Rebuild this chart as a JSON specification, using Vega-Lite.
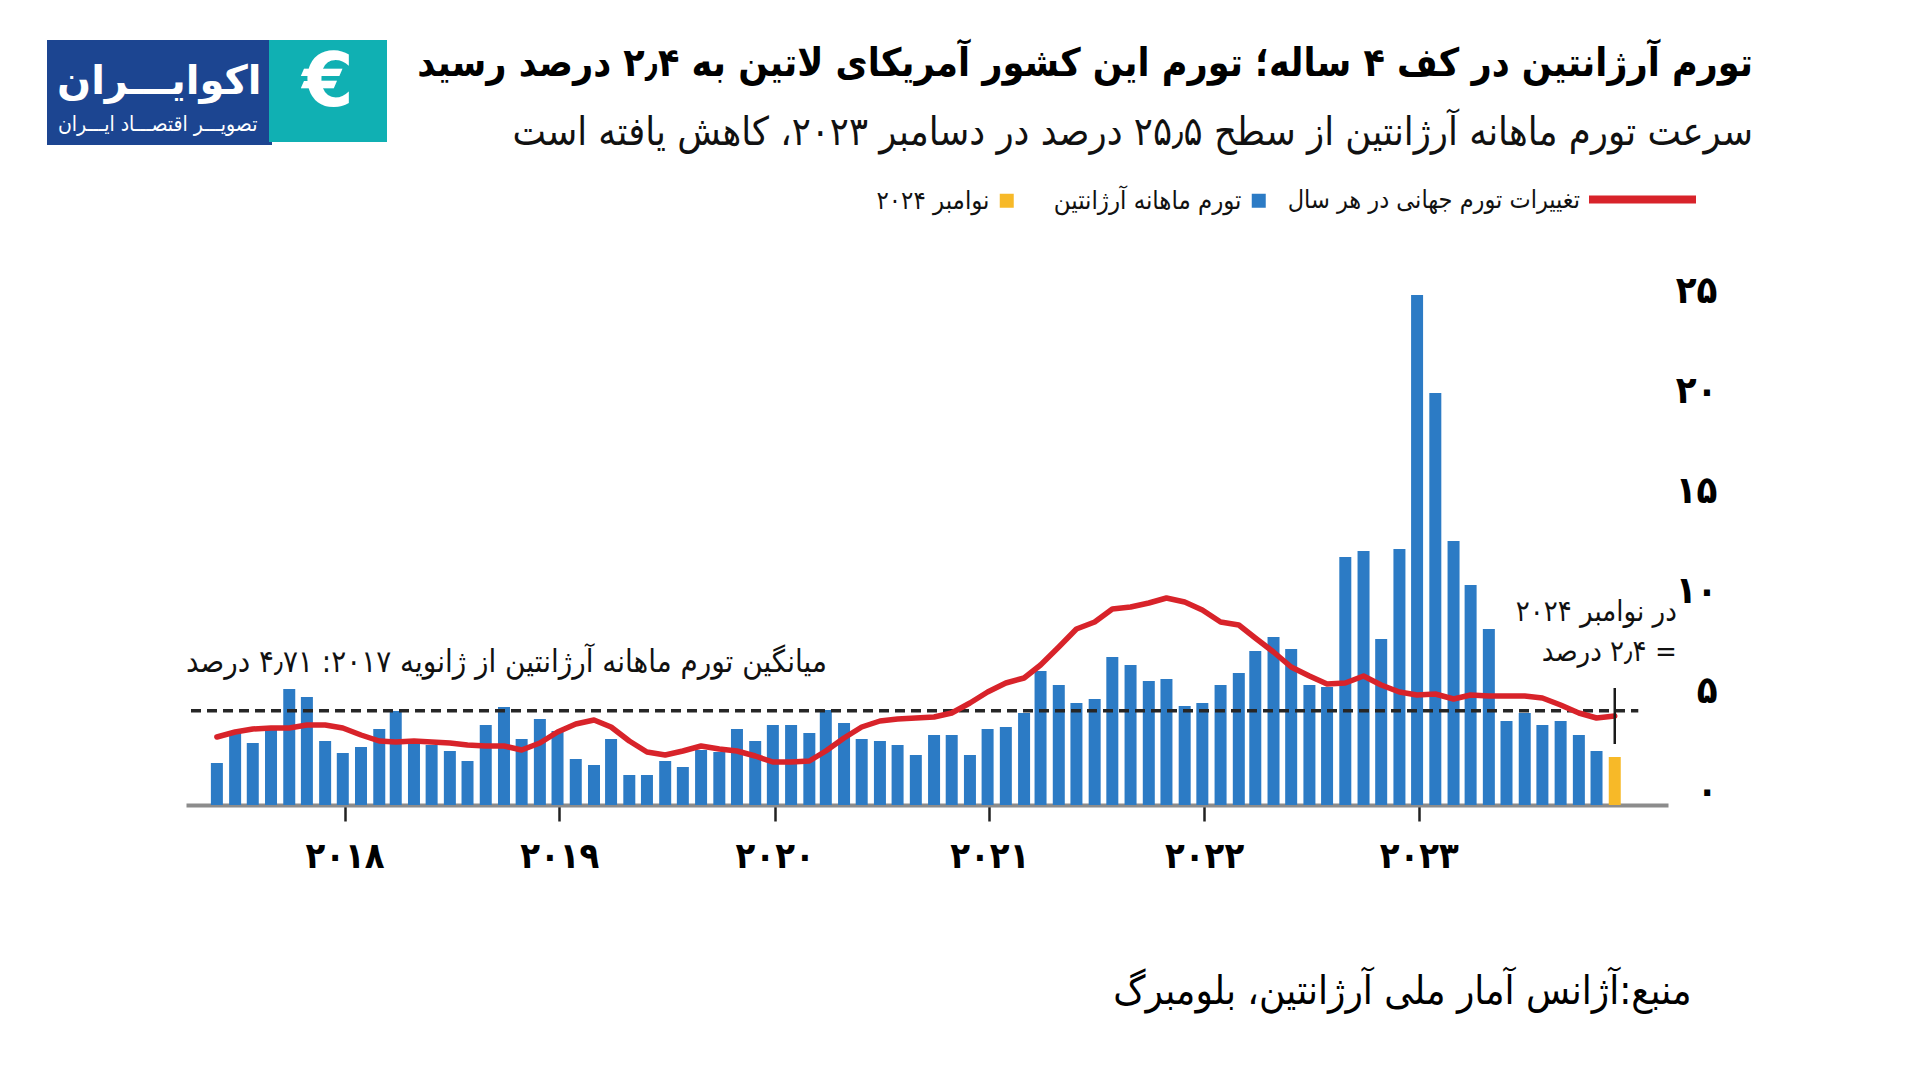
{
  "$schema": "https://vega.github.io/schema/vega-lite/v6.json",
  "width": 1482,
  "height": 520,
  "autosize": {"type": "none"},
  "padding": {"left": 186, "top": 285, "right": 252, "bottom": 275},
  "background": "white",
  "config": {"view": {"stroke": null}, "font": "DejaVu Sans"},
  "title": {
    "text": "تورم آرژانتین در کف ۴ ساله؛ تورم این کشور آمریکای لاتین به ۲٫۴ درصد رسید",
    "subtitle": "سرعت تورم ماهانه آرژانتین از سطح ۲۵٫۵ درصد در دسامبر ۲۰۲۳، کاهش یافته است",
    "anchor": "end",
    "frame": "group",
    "dx": 85,
    "offset": -112,
    "font": "DejaVu Sans Condensed",
    "fontSize": 39,
    "fontWeight": "bold",
    "color": "#000000",
    "subtitleFont": "DejaVu Sans Condensed",
    "subtitleFontSize": 39.5,
    "subtitleColor": "#111111",
    "subtitlePadding": 30
  },
  "datasets": {
    "monthly": [
      {"date": "2018-05-15", "rate": 2.1, "trend": 3.4, "series": "تورم ماهانه آرژانتین"},
      {"date": "2018-06-15", "rate": 3.6, "trend": 3.65, "series": "تورم ماهانه آرژانتین"},
      {"date": "2018-07-15", "rate": 3.1, "trend": 3.8, "series": "تورم ماهانه آرژانتین"},
      {"date": "2018-08-15", "rate": 3.8, "trend": 3.85, "series": "تورم ماهانه آرژانتین"},
      {"date": "2018-09-15", "rate": 5.8, "trend": 3.85, "series": "تورم ماهانه آرژانتین"},
      {"date": "2018-10-15", "rate": 5.4, "trend": 4.0, "series": "تورم ماهانه آرژانتین"},
      {"date": "2018-11-15", "rate": 3.2, "trend": 4.0, "series": "تورم ماهانه آرژانتین"},
      {"date": "2018-12-15", "rate": 2.6, "trend": 3.85, "series": "تورم ماهانه آرژانتین"},
      {"date": "2019-01-15", "rate": 2.9, "trend": 3.5, "series": "تورم ماهانه آرژانتین"},
      {"date": "2019-02-15", "rate": 3.8, "trend": 3.2, "series": "تورم ماهانه آرژانتین"},
      {"date": "2019-03-15", "rate": 4.7, "trend": 3.15, "series": "تورم ماهانه آرژانتین"},
      {"date": "2019-04-15", "rate": 3.3, "trend": 3.2, "series": "تورم ماهانه آرژانتین"},
      {"date": "2019-05-15", "rate": 3.0, "trend": 3.15, "series": "تورم ماهانه آرژانتین"},
      {"date": "2019-06-15", "rate": 2.7, "trend": 3.1, "series": "تورم ماهانه آرژانتین"},
      {"date": "2019-07-15", "rate": 2.2, "trend": 3.0, "series": "تورم ماهانه آرژانتین"},
      {"date": "2019-08-15", "rate": 4.0, "trend": 2.95, "series": "تورم ماهانه آرژانتین"},
      {"date": "2019-09-15", "rate": 4.9, "trend": 2.95, "series": "تورم ماهانه آرژانتین"},
      {"date": "2019-10-15", "rate": 3.3, "trend": 2.75, "series": "تورم ماهانه آرژانتین"},
      {"date": "2019-11-15", "rate": 4.3, "trend": 3.1, "series": "تورم ماهانه آرژانتین"},
      {"date": "2019-12-15", "rate": 3.7, "trend": 3.65, "series": "تورم ماهانه آرژانتین"},
      {"date": "2020-01-15", "rate": 2.3, "trend": 4.05, "series": "تورم ماهانه آرژانتین"},
      {"date": "2020-02-15", "rate": 2.0, "trend": 4.25, "series": "تورم ماهانه آرژانتین"},
      {"date": "2020-03-15", "rate": 3.3, "trend": 3.9, "series": "تورم ماهانه آرژانتین"},
      {"date": "2020-04-15", "rate": 1.5, "trend": 3.2, "series": "تورم ماهانه آرژانتین"},
      {"date": "2020-05-15", "rate": 1.5, "trend": 2.65, "series": "تورم ماهانه آرژانتین"},
      {"date": "2020-06-15", "rate": 2.2, "trend": 2.5, "series": "تورم ماهانه آرژانتین"},
      {"date": "2020-07-15", "rate": 1.9, "trend": 2.7, "series": "تورم ماهانه آرژانتین"},
      {"date": "2020-08-15", "rate": 2.75, "trend": 2.95, "series": "تورم ماهانه آرژانتین"},
      {"date": "2020-09-15", "rate": 2.65, "trend": 2.8, "series": "تورم ماهانه آرژانتین"},
      {"date": "2020-10-15", "rate": 3.8, "trend": 2.7, "series": "تورم ماهانه آرژانتین"},
      {"date": "2020-11-15", "rate": 3.2, "trend": 2.45, "series": "تورم ماهانه آرژانتین"},
      {"date": "2020-12-15", "rate": 4.0, "trend": 2.15, "series": "تورم ماهانه آرژانتین"},
      {"date": "2021-01-15", "rate": 4.0, "trend": 2.15, "series": "تورم ماهانه آرژانتین"},
      {"date": "2021-02-15", "rate": 3.6, "trend": 2.2, "series": "تورم ماهانه آرژانتین"},
      {"date": "2021-03-15", "rate": 4.75, "trend": 2.7, "series": "تورم ماهانه آرژانتین"},
      {"date": "2021-04-15", "rate": 4.1, "trend": 3.35, "series": "تورم ماهانه آرژانتین"},
      {"date": "2021-05-15", "rate": 3.3, "trend": 3.9, "series": "تورم ماهانه آرژانتین"},
      {"date": "2021-06-15", "rate": 3.2, "trend": 4.2, "series": "تورم ماهانه آرژانتین"},
      {"date": "2021-07-15", "rate": 3.0, "trend": 4.3, "series": "تورم ماهانه آرژانتین"},
      {"date": "2021-08-15", "rate": 2.5, "trend": 4.35, "series": "تورم ماهانه آرژانتین"},
      {"date": "2021-09-15", "rate": 3.5, "trend": 4.4, "series": "تورم ماهانه آرژانتین"},
      {"date": "2021-10-15", "rate": 3.5, "trend": 4.6, "series": "تورم ماهانه آرژانتین"},
      {"date": "2021-11-15", "rate": 2.5, "trend": 5.1, "series": "تورم ماهانه آرژانتین"},
      {"date": "2021-12-15", "rate": 3.8, "trend": 5.65, "series": "تورم ماهانه آرژانتین"},
      {"date": "2022-01-15", "rate": 3.9, "trend": 6.1, "series": "تورم ماهانه آرژانتین"},
      {"date": "2022-02-15", "rate": 4.6, "trend": 6.35, "series": "تورم ماهانه آرژانتین"},
      {"date": "2022-03-15", "rate": 6.7, "trend": 7.0, "series": "تورم ماهانه آرژانتین"},
      {"date": "2022-04-15", "rate": 6.0, "trend": 7.9, "series": "تورم ماهانه آرژانتین"},
      {"date": "2022-05-15", "rate": 5.1, "trend": 8.8, "series": "تورم ماهانه آرژانتین"},
      {"date": "2022-06-15", "rate": 5.3, "trend": 9.15, "series": "تورم ماهانه آرژانتین"},
      {"date": "2022-07-15", "rate": 7.4, "trend": 9.8, "series": "تورم ماهانه آرژانتین"},
      {"date": "2022-08-15", "rate": 7.0, "trend": 9.9, "series": "تورم ماهانه آرژانتین"},
      {"date": "2022-09-15", "rate": 6.2, "trend": 10.1, "series": "تورم ماهانه آرژانتین"},
      {"date": "2022-10-15", "rate": 6.3, "trend": 10.35, "series": "تورم ماهانه آرژانتین"},
      {"date": "2022-11-15", "rate": 4.95, "trend": 10.15, "series": "تورم ماهانه آرژانتین"},
      {"date": "2022-12-15", "rate": 5.1, "trend": 9.75, "series": "تورم ماهانه آرژانتین"},
      {"date": "2023-01-15", "rate": 6.0, "trend": 9.15, "series": "تورم ماهانه آرژانتین"},
      {"date": "2023-02-15", "rate": 6.6, "trend": 9.0, "series": "تورم ماهانه آرژانتین"},
      {"date": "2023-03-15", "rate": 7.7, "trend": 8.35, "series": "تورم ماهانه آرژانتین"},
      {"date": "2023-04-15", "rate": 8.4, "trend": 7.65, "series": "تورم ماهانه آرژانتین"},
      {"date": "2023-05-15", "rate": 7.8, "trend": 6.9, "series": "تورم ماهانه آرژانتین"},
      {"date": "2023-06-15", "rate": 6.0, "trend": 6.45, "series": "تورم ماهانه آرژانتین"},
      {"date": "2023-07-15", "rate": 5.9, "trend": 6.05, "series": "تورم ماهانه آرژانتین"},
      {"date": "2023-08-15", "rate": 12.4, "trend": 6.1, "series": "تورم ماهانه آرژانتین"},
      {"date": "2023-09-15", "rate": 12.7, "trend": 6.45, "series": "تورم ماهانه آرژانتین"},
      {"date": "2023-10-15", "rate": 8.3, "trend": 6.0, "series": "تورم ماهانه آرژانتین"},
      {"date": "2023-11-15", "rate": 12.8, "trend": 5.65, "series": "تورم ماهانه آرژانتین"},
      {"date": "2023-12-15", "rate": 25.5, "trend": 5.5, "series": "تورم ماهانه آرژانتین"},
      {"date": "2024-01-15", "rate": 20.6, "trend": 5.55, "series": "تورم ماهانه آرژانتین"},
      {"date": "2024-02-15", "rate": 13.2, "trend": 5.3, "series": "تورم ماهانه آرژانتین"},
      {"date": "2024-03-15", "rate": 11.0, "trend": 5.5, "series": "تورم ماهانه آرژانتین"},
      {"date": "2024-04-15", "rate": 8.8, "trend": 5.45, "series": "تورم ماهانه آرژانتین"},
      {"date": "2024-05-15", "rate": 4.2, "trend": 5.45, "series": "تورم ماهانه آرژانتین"},
      {"date": "2024-06-15", "rate": 4.6, "trend": 5.45, "series": "تورم ماهانه آرژانتین"},
      {"date": "2024-07-15", "rate": 4.0, "trend": 5.35, "series": "تورم ماهانه آرژانتین"},
      {"date": "2024-08-15", "rate": 4.2, "trend": 5.0, "series": "تورم ماهانه آرژانتین"},
      {"date": "2024-09-15", "rate": 3.5, "trend": 4.6, "series": "تورم ماهانه آرژانتین"},
      {"date": "2024-10-15", "rate": 2.7, "trend": 4.35, "series": "تورم ماهانه آرژانتین"},
      {"date": "2024-11-15", "rate": 2.4, "trend": 4.45, "series": "نوامبر ۲۰۲۴"}
    ],
    "notes": [
      {"date": "2018-05-15", "value": 4.71, "kind": "avg", "label": "میانگین تورم ماهانه آرژانتین از ژانویه ۲۰۱۷: ۴٫۷۱ درصد"},
      {"date": "2024-11-15", "value": 2.4, "kind": "nov1", "label": "در نوامبر ۲۰۲۴"},
      {"date": "2024-11-15", "value": 2.4, "kind": "nov2", "label": "‏= ۲٫۴ درصد"}
    ]
  },
  "encoding": {
    "x": {
      "field": "date",
      "type": "temporal",
      "scale": {
        "type": "utc",
        "domain": [
          {"year": 2018, "month": 4, "date": 1, "utc": true},
          {"year": 2025, "month": 2, "date": 5, "utc": true}
        ]
      },
      "axis": {
        "values": [
          {"year": 2018, "month": 12, "date": 18, "utc": true},
          {"year": 2019, "month": 12, "date": 18, "utc": true},
          {"year": 2020, "month": 12, "date": 18, "utc": true},
          {"year": 2021, "month": 12, "date": 18, "utc": true},
          {"year": 2022, "month": 12, "date": 18, "utc": true},
          {"year": 2023, "month": 12, "date": 18, "utc": true}
        ],
        "labelExpr": "utcyear(datum.value)==2018?'۲۰۱۸':utcyear(datum.value)==2019?'۲۰۱۹':utcyear(datum.value)==2020?'۲۰۲۰':utcyear(datum.value)==2021?'۲۰۲۱':utcyear(datum.value)==2022?'۲۰۲۲':'۲۰۲۳'",
        "labelFont": "DejaVu Sans Condensed",
        "labelFontWeight": "bold",
        "labelFontSize": 36,
        "labelColor": "#000000",
        "labelPadding": 18,
        "labelFlush": false,
        "labelOverlap": false,
        "tickSize": 16,
        "tickWidth": 2.5,
        "tickColor": "#222222",
        "domainColor": "#8c8c8c",
        "domainWidth": 4,
        "grid": false,
        "title": "منبع:آژانس آمار ملی آرژانتین، بلومبرگ",
        "titleFont": "DejaVu Sans Condensed",
        "titleFontSize": 40,
        "titleFontWeight": "normal",
        "titleColor": "#000000",
        "titleAlign": "right",
        "titleBaseline": "alphabetic",
        "titleX": 1505,
        "titleY": 198
      }
    }
  },
  "layer": [
    {
      "data": {"name": "monthly"},
      "transform": [{"filter": "datum.series == 'تورم ماهانه آرژانتین'"}],
      "mark": {"type": "bar", "size": 12},
      "encoding": {
        "y": {
          "field": "rate",
          "type": "quantitative",
          "scale": {"domain": [0, 26], "nice": false},
          "axis": {
            "orient": "right",
            "values": [0, 5, 10, 15, 20, 25],
            "labelExpr": "datum.value==0?'۰':datum.value==5?'۵':datum.value==10?'۱۰':datum.value==15?'۱۵':datum.value==20?'۲۰':'۲۵'",
            "domain": false,
            "ticks": false,
            "tickSize": 0,
            "grid": false,
            "title": null,
            "labelAlign": "right",
            "labelBaseline": "middle",
            "labelPadding": 49,
            "labelOffset": -14,
            "labelFont": "DejaVu Sans Condensed",
            "labelFontWeight": "bold",
            "labelFontSize": 38,
            "labelColor": "#000000"
          }
        },
        "fill": {
          "field": "series",
          "type": "nominal",
          "scale": {"domain": ["تورم ماهانه آرژانتین"], "range": ["#2c7bc5"]},
          "legend": {
            "orient": "none",
            "legendX": 1060,
            "legendY": -97,
            "title": null,
            "padding": 0,
            "symbolType": "square",
            "symbolSize": 196,
            "symbolStrokeWidth": 0,
            "labelAlign": "right",
            "labelOffset": -30,
            "labelFont": "DejaVu Sans Condensed",
            "labelFontSize": 25.5,
            "labelColor": "#111111",
            "labelLimit": 500
          }
        }
      }
    },
    {
      "data": {"name": "monthly"},
      "transform": [{"filter": "datum.series == 'نوامبر ۲۰۲۴'"}],
      "mark": {"type": "bar", "size": 12},
      "encoding": {
        "y": {"field": "rate", "type": "quantitative", "axis": {"title": null}},
        "color": {
          "field": "series",
          "type": "nominal",
          "scale": {"domain": ["نوامبر ۲۰۲۴"], "range": ["#f7b928"]},
          "legend": {
            "orient": "none",
            "legendX": 808,
            "legendY": -97,
            "title": null,
            "padding": 0,
            "symbolType": "square",
            "symbolSize": 196,
            "symbolStrokeWidth": 0,
            "labelAlign": "right",
            "labelOffset": -30,
            "labelFont": "DejaVu Sans Condensed",
            "labelFontSize": 25.5,
            "labelColor": "#111111",
            "labelLimit": 500
          }
        }
      }
    },
    {
      "data": {"name": "notes"},
      "transform": [{"filter": "datum.kind == 'avg'"}],
      "mark": {"type": "rule", "strokeWidth": 3.5, "color": "#262626"},
      "encoding": {
        "x": {"datum": {"year": 2018, "month": 4, "date": 1, "utc": true}, "type": "temporal"},
        "x2": {"datum": {"year": 2024, "month": 12, "date": 25, "utc": true}},
        "y": {"field": "value", "type": "quantitative", "axis": {"title": null}},
        "strokeDash": {
          "datum": "تصویـــر اقتصـــاد ایـــران",
          "type": "nominal",
          "scale": {"domain": ["تصویـــر اقتصـــاد ایـــران"], "range": [[10, 6]]},
          "legend": {
            "orient": "none",
            "legendX": -139,
            "legendY": -245,
            "fillColor": "#1c4591",
            "padding": 10,
            "title": ["", "اکوایـــران"],
            "titleColor": "#ffffff",
            "titleFont": "DejaVu Sans",
            "titleFontWeight": "bold",
            "titleFontSize": 40,
            "titleLineHeight": 12,
            "titleLimit": 400,
            "titleAnchor": "start",
            "titlePadding": 12,
            "symbolSize": 0,
            "symbolOpacity": 0,
            "labelOffset": -20,
            "labelColor": "#ffffff",
            "labelFont": "DejaVu Sans Condensed",
            "labelFontSize": 21,
            "labelLimit": 400
          }
        }
      }
    },
    {
      "data": {"name": "monthly"},
      "mark": {"type": "line", "strokeWidth": 5.5, "strokeJoin": "round", "strokeCap": "round"},
      "encoding": {
        "y": {"field": "trend", "type": "quantitative", "axis": {"title": null}},
        "stroke": {
          "datum": "تغییرات تورم جهانی در هر سال",
          "type": "nominal",
          "scale": {"domain": ["تغییرات تورم جهانی در هر سال"], "range": ["#d8232a"]},
          "legend": {
            "orient": "none",
            "legendX": 1399,
            "legendY": -143,
            "title": null,
            "padding": 0,
            "symbolType": "stroke",
            "symbolSize": 11449,
            "symbolStrokeWidth": 8,
            "labelAlign": "right",
            "labelOffset": -120,
            "labelFont": "DejaVu Sans Condensed",
            "labelFontSize": 25,
            "labelColor": "#111111",
            "labelLimit": 500
          }
        }
      }
    },
    {
      "data": {"name": "monthly"},
      "transform": [{"filter": "datum.series == 'نوامبر ۲۰۲۴'"}],
      "mark": {"type": "tick", "orient": "vertical", "size": 56, "thickness": 2.5, "color": "#1a1a1a"},
      "encoding": {
        "y": {"field": "trend", "type": "quantitative", "axis": {"title": null}},
        "opacity": {
          "datum": "logo",
          "type": "nominal",
          "scale": {"type": "ordinal", "domain": ["logo"], "range": [1]},
          "legend": {
            "orient": "none",
            "legendX": 83,
            "legendY": -245,
            "fillColor": "#10b0b3",
            "padding": 8,
            "title": "€",
            "titleColor": "#ffffff",
            "titleFont": "DejaVu Sans",
            "titleFontWeight": "bold",
            "titleFontSize": 74,
            "titleLimit": 400,
            "titleAnchor": "middle",
            "titlePadding": 0,
            "symbolSize": 0,
            "symbolOpacity": 0,
            "labelExpr": "'_______________'",
            "labelFont": "DejaVu Sans",
            "labelFontSize": 12,
            "labelColor": "#10b0b3",
            "labelLimit": 400,
            "labelOffset": 0
          }
        }
      }
    },
    {
      "data": {"name": "notes"},
      "transform": [{"filter": "datum.kind == 'avg'"}],
      "mark": {"type": "text", "align": "left", "baseline": "alphabetic", "dx": -31, "dy": -39, "font": "DejaVu Sans Condensed", "fontSize": 31, "color": "#111111"},
      "encoding": {
        "y": {"field": "value", "type": "quantitative", "axis": {"title": null}},
        "text": {"field": "label"}
      }
    },
    {
      "data": {"name": "notes"},
      "transform": [{"filter": "datum.kind == 'nov1'"}],
      "mark": {"type": "text", "align": "right", "baseline": "alphabetic", "dx": 62, "dy": -136, "font": "DejaVu Sans Condensed", "fontSize": 29, "color": "#111111"},
      "encoding": {
        "y": {"field": "value", "type": "quantitative", "axis": {"title": null}},
        "text": {"field": "label"}
      }
    },
    {
      "data": {"name": "notes"},
      "transform": [{"filter": "datum.kind == 'nov2'"}],
      "mark": {"type": "text", "align": "right", "baseline": "alphabetic", "dx": 62, "dy": -96, "font": "DejaVu Sans Condensed", "fontSize": 29, "color": "#111111"},
      "encoding": {
        "y": {"field": "value", "type": "quantitative", "axis": {"title": null}},
        "text": {"field": "label"}
      }
    }
  ]
}
